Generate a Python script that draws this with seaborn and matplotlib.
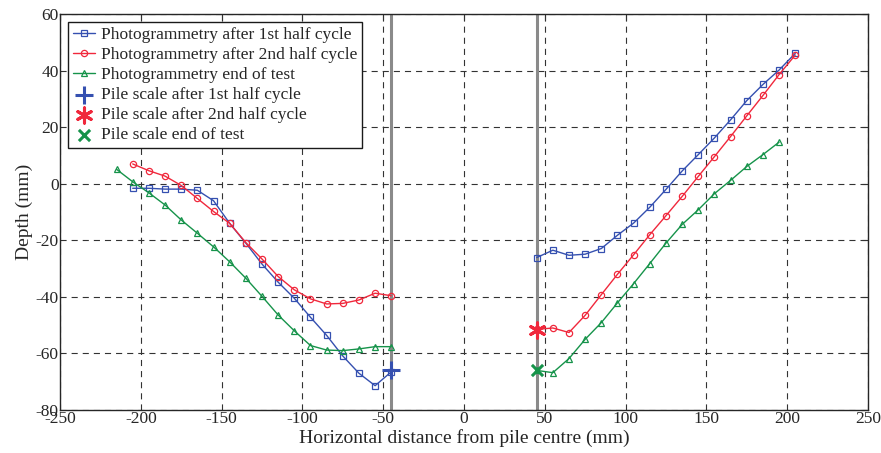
import numpy as np
import pandas as pd
import matplotlib.pyplot as plt
import seaborn as sns

sns.set_style('white')
plt.rcParams['font.family'] = ['Liberation Serif', 'DejaVu Serif']
plt.rcParams['axes.unicode_minus'] = False

# photogrammetry profiles, left and right of the pile
x_left = [-205, -195, -185, -175, -165, -155, -145, -135, -125, -115, -105, -95, -85, -75, -65, -55, -45]
x_left_end = [-215, -205, -195, -185, -175, -165, -155, -145, -135, -125, -115, -105, -95, -85, -75, -65, -55, -45]
x_right = [45, 55, 65, 75, 85, 95, 105, 115, 125, 135, 145, 155, 165, 175, 185, 195, 205]
x_right_end = [45, 55, 65, 75, 85, 95, 105, 115, 125, 135, 145, 155, 165, 175, 185, 195]

first_left = [-1.6, -1.6, -1.9, -1.9, -2.3, -6.0, -14.0, -21.0, -28.4, -34.8, -40.5, -47.2, -53.6, -60.9, -67.0, -71.4, -66.5]
first_right = [-26.1, -23.5, -25.3, -24.9, -22.9, -18.2, -13.9, -8.3, -2.0, 4.5, 10.3, 16.2, 22.6, 29.4, 35.1, 40.2, 46.1]
second_left = [7.0, 4.6, 2.7, -0.6, -5.2, -9.8, -14.0, -20.8, -26.6, -32.8, -37.5, -40.7, -42.5, -42.3, -41.1, -38.7, -39.6]
second_right = [-51.5, -51.0, -52.6, -46.5, -39.2, -32.0, -25.1, -18.0, -11.3, -4.5, 2.6, 9.6, 16.7, 24.0, 31.2, 38.6, 45.5]
end_left = [5.1, 0.7, -3.2, -7.5, -12.8, -17.5, -22.3, -27.6, -33.4, -39.8, -46.4, -52.0, -57.2, -58.8, -59.0, -58.4, -57.6, -57.6]
end_right = [-66.0, -66.8, -61.8, -55.0, -49.1, -42.1, -35.3, -28.2, -21.0, -14.4, -9.2, -3.5, 1.2, 6.1, 10.3, 14.7]

# pile scale readings
pile_x = [-45, 45, 45]
pile_y = [-65.8, -51.8, -65.9]

labels = ['Photogrammetry after 1st half cycle',
          'Photogrammetry after 2nd half cycle',
          'Photogrammetry end of test',
          'Pile scale after 1st half cycle',
          'Pile scale after 2nd half cycle',
          'Pile scale end of test']
pile_edge = [-45, 45]

colors = ['#3550b0', '#f0283c', '#16934a']
markers = ['s', 'o', '^']
profiles = [(x_left, first_left, x_right, first_right),
            (x_left, second_left, x_right, second_right),
            (x_left_end, end_left, x_right_end, end_right)]

fig = plt.figure(figsize=(8.81, 4.53), dpi=100)
ax = fig.add_axes([0.0681, 0.0949, 0.9171, 0.8741])

for xe in pile_edge:
    ax.axvline(xe, color='#8a8a8a', lw=2.2, zorder=1)

for i, (xl, yl, xr, yr) in enumerate(profiles):
    for j, (xx, yy) in enumerate([(xl, yl), (xr, yr)]):
        sns.lineplot(x=xx, y=yy, ax=ax, color=colors[i], marker=markers[i],
                     markersize=4.5, markerfacecolor='none', markeredgecolor=colors[i],
                     markeredgewidth=0.9, lw=1.0, sort=False, estimator=None,
                     label=labels[i] if j == 0 else None, zorder=3)

pile_markers = ['+', (6, 2, 0), 'x']
pile_sizes = [150, 120, 65]
for k in range(3):
    sns.scatterplot(x=[pile_x[k]], y=[pile_y[k]], ax=ax, marker=pile_markers[k],
                    s=pile_sizes[k], color=colors[k], linewidth=2.2,
                    label=labels[3 + k], zorder=4)

ax.set_xlim(-250, 250)
ax.set_ylim(-80, 60)
ax.set_xticks(np.arange(-250, 251, 50))
ax.set_yticks(np.arange(-80, 61, 20))
ax.grid(True, color='0.2', linestyle=(0, (5.5, 4.5)), lw=0.8)
ax.tick_params(direction='in', length=4, labelsize=12.5, top=True, right=True,
               color='0.2', pad=1)
for s in ax.spines.values():
    s.set_color('0.15')
    s.set_linewidth(1.0)

ax.set_xlabel('Horizontal distance from pile centre (mm)', fontsize=14, labelpad=1)
ax.set_ylabel('Depth (mm)', fontsize=14, labelpad=2)

leg = ax.legend(loc='upper left', fontsize=12.5, handlelength=1.25, handletextpad=0.35,
                labelspacing=0.22, borderpad=0.3, fancybox=False, framealpha=1,
                borderaxespad=0.45)
leg.get_frame().set_edgecolor('0.1')
leg.get_frame().set_linewidth(1.0)

fig.savefig('out.png', dpi=100)
